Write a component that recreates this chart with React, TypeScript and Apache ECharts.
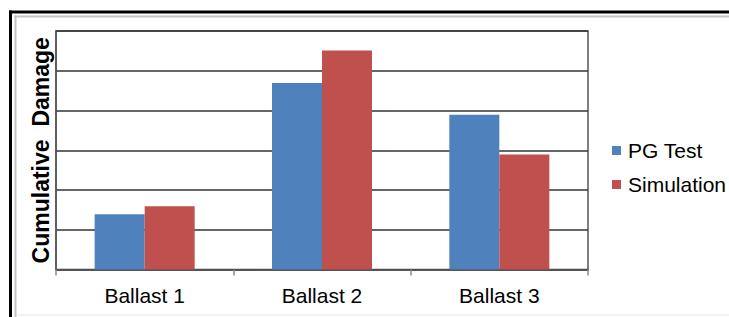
import React, { useEffect, useRef } from "react";
import * as echarts from "echarts";

const categories = ["Ballast 1", "Ballast 2", "Ballast 3"];
const pgTest = [1.39, 4.69, 3.89];
const simulation = [1.59, 5.51, 2.89];
const seriesNames = ["PG Test", "Simulation"];
const yTitle = "Cumulative  Damage";

const FONT = "'Liberation Sans', Arial, sans-serif";

export default function App() {
  const ref = useRef<HTMLDivElement>(null);
  useEffect(() => {
    if (!ref.current) return;
    const chart = echarts.init(ref.current, undefined, { renderer: "svg" });
    chart.setOption({
      animation: false,
      backgroundColor: "#ffffff",
      textStyle: { fontFamily: FONT },
      grid: {
        left: 56,
        top: 31,
        width: 532,
        height: 238.5,
        show: true,
        borderColor: "#555",
        borderWidth: 1.5,
        backgroundColor: "transparent",
      },
      legend: {
        orient: "vertical",
        left: 607,
        top: 135,
        itemWidth: 9,
        itemHeight: 9,
        itemGap: 13,
        icon: "rect",
        data: seriesNames,
        textStyle: {
          fontFamily: FONT,
          fontSize: 21,
          color: "#000",
          padding: [0, 0, 0, 2],
        },
      },
      xAxis: {
        type: "category",
        data: categories,
        axisLine: { lineStyle: { color: "#555", width: 1.5 } },
        axisTick: { show: true, length: 6, lineStyle: { color: "#888", width: 1.5 } },
        axisLabel: { fontFamily: FONT, fontSize: 21, color: "#000", margin: 15 },
      },
      yAxis: {
        type: "value",
        min: 0,
        max: 6,
        interval: 1,
        name: yTitle,
        nameLocation: "middle",
        nameGap: 4,
        nameTextStyle: { fontFamily: FONT, fontSize: 23, fontWeight: "bold", color: "#000" },
        axisLine: { show: true, lineStyle: { color: "#555", width: 1.5 } },
        axisTick: { show: false },
        axisLabel: { show: false },
        splitLine: { show: true, lineStyle: { color: "#333", width: 1.5 } },
      },
      series: [
        {
          name: seriesNames[0],
          type: "bar",
          data: pgTest,
          barGap: "0%",
          barCategoryGap: "43.6%",
          itemStyle: { color: "#4F81BD" },
        },
        {
          name: seriesNames[1],
          type: "bar",
          data: simulation,
          barGap: "0%",
          barCategoryGap: "43.6%",
          itemStyle: { color: "#C0504D" },
        },
      ],
      graphic: [
        { type: "line", shape: { x1: 9, y1: 12, x2: 729, y2: 12 }, style: { stroke: "#000", lineWidth: 3 }, silent: true },
        { type: "line", shape: { x1: 10.5, y1: 10.5, x2: 10.5, y2: 317 }, style: { stroke: "#000", lineWidth: 3 }, silent: true },
        { type: "line", shape: { x1: 14, y1: 16.5, x2: 729, y2: 16.5 }, style: { stroke: "#c4c4c4", lineWidth: 2 }, silent: true },
        { type: "line", shape: { x1: 15.5, y1: 15.5, x2: 15.5, y2: 317 }, style: { stroke: "#c4c4c4", lineWidth: 2 }, silent: true },
        { type: "line", shape: { x1: 16, y1: 315, x2: 729, y2: 315 }, style: { stroke: "#e4e4e4", lineWidth: 1 }, silent: true },
      ],
    });
    return () => chart.dispose();
  }, []);
  return <div ref={ref} style={{ width: 729, height: 317, position: "absolute", left: 0, top: 0 }} />;
}
